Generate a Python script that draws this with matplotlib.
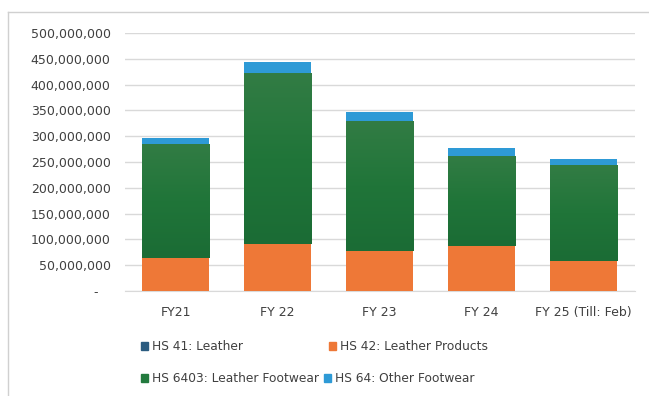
import matplotlib
matplotlib.use("Agg")
import matplotlib.pyplot as plt
import numpy as np
from matplotlib.lines import Line2D
from matplotlib.patches import Patch
from matplotlib.colors import LinearSegmentedColormap

categories = ["FY21", "FY 22", "FY 23", "FY 24", "FY 25 (Till: Feb)"]
hs41_leather = [0.3e6, 0.3e6, 0.3e6, 0.3e6, 0.3e6]
hs42_leather_products = [64e6, 91e6, 78e6, 86e6, 57e6]
hs6403_leather_footwear = [221e6, 331e6, 252e6, 176e6, 186e6]
hs64_other_footwear = [12e6, 22e6, 17e6, 14e6, 13e6]
yticks = [0, 50e6, 100e6, 150e6, 200e6, 250e6, 300e6, 350e6, 400e6, 450e6, 500e6]

c41 = "#2B5C80"
c42 = "#EE7837"
c6403 = "#237A3E"
c64 = "#2E9AD6"

W, H = 649, 396
fig = plt.figure(figsize=(W / 100, H / 100), dpi=100)
ax = fig.add_axes([124.5 / W, 1 - 291 / H, 510 / W, 258 / H])

x = np.arange(len(categories))
bw = 0.66
b = np.zeros(len(categories))
green_bars = None
for vals, col in [(hs41_leather, c41), (hs42_leather_products, c42),
                  (hs6403_leather_footwear, c6403), (hs64_other_footwear, c64)]:
    bars = ax.bar(x, vals, bw, bottom=b, color=col, zorder=3, linewidth=0)
    if col == c6403:
        green_bars = bars
    b = b + np.array(vals)

# subtle vertical gradient on green bars
gcmap = LinearSegmentedColormap.from_list("g", ["#1B6C35", "#207539", "#327C44"])
grad = np.linspace(0, 1, 100).reshape(-1, 1)
for p in green_bars:
    x0, y0 = p.get_x(), p.get_y()
    w, h = p.get_width(), p.get_height()
    im = ax.imshow(grad, cmap=gcmap, origin="lower", aspect="auto",
                   extent=[x0, x0 + w, y0, y0 + h], zorder=3.5)
    im.set_clip_path(p)

ax.set_xlim(-0.5, len(categories) - 0.5)
ax.set_ylim(0, 500e6)
ax.set_yticks(yticks)
ax.set_yticklabels(["-   " if v == 0 else f"{int(v):,}" for v in yticks],
                   fontsize=9, color="#404040")
ax.set_xticks(x)
ax.set_xticklabels(categories, fontsize=9, color="#404040")
ax.tick_params(axis="both", length=0)
ax.tick_params(axis="x", pad=11)
ax.tick_params(axis="y", pad=10)
ax.grid(axis="y", color="#D9D9D9", linewidth=1, zorder=0)
for s in ["top", "right", "left"]:
    ax.spines[s].set_visible(False)
ax.spines["bottom"].set_color("#D9D9D9")

# legend rows
fs = 8.8
fig.legend(handles=[Patch(color=c41, label="HS 41: Leather"),
                    Patch(color=c42, label="HS 42: Leather Products")],
           loc="center left", bbox_to_anchor=(141 / W, 1 - 347 / H),
           ncol=2, frameon=False, fontsize=fs, handlelength=0.6,
           handleheight=0.6, handletextpad=0.3, columnspacing=7.0,
           labelcolor="#404040", borderaxespad=0, borderpad=0)
fig.legend(handles=[Patch(color=c6403, label="HS 6403: Leather Footwear"),
                    Patch(color=c64, label="HS 64: Other Footwear")],
           loc="center left", bbox_to_anchor=(141 / W, 1 - 379 / H),
           ncol=2, frameon=False, fontsize=fs, handlelength=0.6,
           handleheight=0.6, handletextpad=0.3, columnspacing=0.4,
           labelcolor="#404040", borderaxespad=0, borderpad=0)

# outer frame
fig.add_artist(Line2D([8 / W, 1], [1 - 12 / H, 1 - 12 / H], color="#D0D0D0", lw=1))
fig.add_artist(Line2D([8 / W, 8 / W], [0, 1 - 12 / H], color="#D0D0D0", lw=1))

fig.savefig("out.png", dpi=100)
